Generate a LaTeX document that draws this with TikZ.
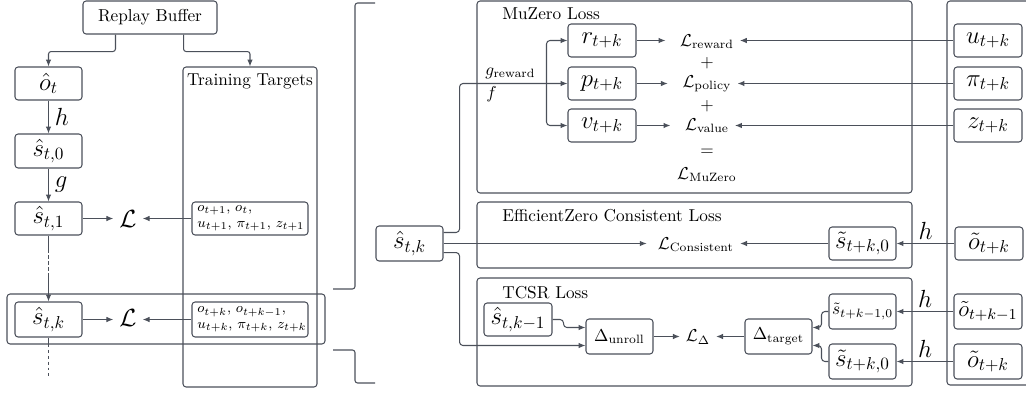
\documentclass[tikz,border=0pt]{standalone}
\usetikzlibrary{calc,arrows.meta}
\definecolor{lncol}{RGB}{75,80,90}
\newcommand{\bnode}[7][]{%
  \pgfmathsetmacro\bcx{(#3+#5)/2}%
  \pgfmathsetmacro\bcy{(#4+#6)/2}%
  \pgfmathsetmacro\bbw{(#5-#3)*0.58}%
  \pgfmathsetmacro\bbh{(#6-#4)*0.58}%
  \node[box, minimum width=\bbw pt, minimum height=\bbh pt, #1] (#2) at (\bcx,\bcy) {#7};}
\begin{document}
\begin{tikzpicture}[x=0.58pt,y=-0.58pt,
  box/.style={draw=lncol, line width=0.6pt, rounded corners=1.8pt, inner sep=0pt},
  wire/.style={draw=lncol, line width=0.6pt},
  arr/.style={draw=lncol, line width=0.6pt, -{Latex[length=4pt,width=3.2pt]}},
  big/.style={font=\Large},
  tgt/.style={text width=61pt, align=left, font=\fontsize{8}{9.2}\selectfont},
  lbl/.style={inner sep=0pt}]
\useasboundingbox (0,0) rectangle (1026,393);
\clip (0,0) rectangle (1026,393);

% ---------- left part ----------
\bnode{RB}{83}{1}{217}{34}{Replay Buffer}
\bnode[big]{o}{15}{67}{82}{100}{$\hat{o}_t$}
\bnode{TT}{183}{67}{317}{387}{}
\node[lbl, anchor=base] (TTt) at (250,85) {Training Targets};
\bnode[big]{s0}{15}{134}{82}{168}{$\hat{s}_{t,0}$}
\bnode[big]{s1}{15}{202}{82}{235}{$\hat{s}_{t,1}$}
\bnode[big]{sk}{15}{302}{82}{337}{$\hat{s}_{t,k}$}
\bnode{hl}{7}{294}{325}{344}{}
\node[big] (L1) at (128,219) {$\mathcal{L}$};
\node[big] (Lk) at (128,318) {$\mathcal{L}$};
\bnode[tgt]{T1}{192}{202}{308}{235}%
  {$o_{t+1},\, o_t,$\\ $u_{t+1},\, \pi_{t+1},\, z_{t+1}$}
\bnode[tgt]{Tk}{192}{302}{308}{337}%
  {$o_{t+k},\, o_{t+k-1},$\\ $u_{t+k},\, \pi_{t+k},\, z_{t+k}$}
\coordinate (skend) at (48.5,377);

\draw[arr, rounded corners=1.5pt] ($(RB.south west)+(33,0)$) -- ++(0,17) -| (o.north);
\draw[arr, rounded corners=1.5pt] ($(RB.south east)+(-34,0)$) -- ++(0,17) -| (TT.north);
\draw[arr] (o) -- node[right, big]{$h$} (s0);
\draw[arr] (s0) -- node[right, big]{$g$} (s1);
\draw[arr] (s1.east) -- (s1.east -| L1.west);
\draw[arr] (T1.west) -- (T1.west -| L1.east);
\draw[arr] (sk.east) -- (sk.east -| Lk.west);
\draw[arr] (Tk.west) -- (Tk.west -| Lk.east);
\draw[arr, dash pattern=on 9.9pt off 1.5pt on 2pt off 1.5pt on 2pt off 1.5pt on 2pt off 1.5pt on 40pt] (s1.south) -- (sk.north);
\draw[wire, dash pattern=on 5.5pt off 1.7pt on 1.7pt off 1.7pt on 1.7pt off 1.7pt on 1.7pt off 1.7pt on 1.7pt off 1.7pt on 1.7pt off 1.7pt on 1.7pt off 10pt] (sk.south) -- (skend);

% bracket
\draw[wire, rounded corners=1.5pt] (375,3) -- (355,3) -- (355,289) -- (333,289);
\draw[wire, rounded corners=1.5pt] (333,350) -- (355,350) -- (355,383) -- (375,383);

% ---------- right part ----------
\bnode[big]{skk}{376}{226}{443}{261}{$\hat{s}_{t,k}$}

% MuZero loss
\bnode{MZ}{477}{1}{912}{193}{}
\node[lbl, anchor=base west] (MZt) at (502,19) {MuZero Loss};
\bnode[big]{r}{568}{24}{636}{57}{$r_{t+k}$}
\bnode[big]{p}{568}{67}{636}{100}{$p_{t+k}$}
\bnode[big]{v}{568}{109}{636}{142}{$v_{t+k}$}
\node[lbl, anchor=base west] (gr) at (485,75) {$g_{\mathrm{reward}}$};
\node[lbl, anchor=base west] (ff) at (486,98) {$f$};
\node[anchor=base] (Lr) at (707,46) {$\mathcal{L}_{\mathrm{reward}}$};
\node (pl1) at (707,63) {$+$};
\node[anchor=base] (Lp) at (707,87) {$\mathcal{L}_{\mathrm{policy}}$};
\node (pl2) at (707,106) {$+$};
\node[anchor=base] (Lv) at (707,130) {$\mathcal{L}_{\mathrm{value}}$};
\node (eq) at (707,152) {$=$};
\node[anchor=base] (Lm) at (707,179) {$\mathcal{L}_{\mathrm{MuZero}}$};

% right targets column
\bnode{col}{947}{1}{1060}{385}{}
\bnode[big]{u}{954}{24}{1022}{57}{$u_{t+k}$}
\bnode[big]{pi}{954}{67}{1022}{100}{$\pi_{t+k}$}
\bnode[big]{z}{954}{109}{1022}{142}{$z_{t+k}$}

\draw[arr, rounded corners=2pt] ($(skk.north east)+(0,7)$) -- ++(16,0) |- (p.west);
\draw[arr, rounded corners=2pt] ($(p.west)+(-21,0)$) |- (r.west);
\draw[arr, rounded corners=2pt] ($(p.west)+(-21,0)$) |- (v.west);
\draw[arr, shorten >=5pt] (r.east) -- (r.east -| Lr.west);
\draw[arr, shorten >=5pt] (p.east) -- (p.east -| Lp.west);
\draw[arr, shorten >=5pt] (v.east) -- (v.east -| Lv.west);
\draw[arr] (u.west) -- (u.west -| Lr.east);
\draw[arr] (pi.west) -- (pi.west -| Lp.east);
\draw[arr] (z.west) -- (z.west -| Lv.east);

% EfficientZero consistent loss
\bnode{EZ}{477}{202}{912}{268}{}
\node[lbl, anchor=base west] (EZt) at (502,221) {EfficientZero Consistent Loss};
\node[anchor=base] (Lc) at (696,249) {$\mathcal{L}_{\mathrm{Consistent}}$};
\bnode[big]{st}{829}{227}{896}{260}{$\tilde{s}_{t+k,0}$}
\bnode[big]{ot}{955}{227}{1023}{260}{$\tilde{o}_{t+k}$}
\draw[arr, shorten >=3pt] (skk.east) -- (skk.east -| Lc.west);
\draw[arr] (st.west) -- (st.west -| Lc.east);
\draw[arr] (ot.west) -- node[above, big, inner sep=2pt]{$h$} (st.east);

% TCSR loss
\bnode{TC}{477}{278}{912}{386}{}
\node[lbl, anchor=base west] (TCt) at (502,298) {TCSR Loss};
\bnode[big]{skm}{484}{303}{552}{336}{$\hat{s}_{t,k-1}$}
\bnode{du}{586}{319}{653}{354}{$\Delta_{\mathrm{unroll}}$}
\node (Ld) at (698,337) {$\mathcal{L}_{\Delta}$};
\bnode{dt}{745}{319}{812}{354}{$\Delta_{\mathrm{target}}$}
\bnode{sm}{829}{294}{896}{329}{$\tilde{s}_{t+k-1,0}$}
\bnode[big]{sb}{829}{344}{896}{379}{$\tilde{s}_{t+k,0}$}
\bnode[font=\large]{om}{954}{294}{1022}{329}{\scalebox{1.1}{$\tilde{o}_{t+k-1}$}}
\bnode[big]{ob}{954}{344}{1022}{379}{$\tilde{o}_{t+k}$}

\draw[arr, rounded corners=2pt] (skm.east) -- ++(11,0) |- ($(du.west)+(0,-9)$);
\draw[arr, rounded corners=2pt] ($(skk.south east)+(0,-9)$) -- ++(16,0) |- ($(du.west)+(0,9)$);
\draw[arr] (du.east) -- (du.east -| Ld.west);
\draw[arr] (dt.west) -- (dt.west -| Ld.east);
\draw[arr, rounded corners=2pt] (sm.west) -- ++(-7,0) |- ($(dt.east)+(0,-9)$);
\draw[arr, rounded corners=2pt] (sb.west) -- ++(-7,0) |- ($(dt.east)+(0,9)$);
\draw[arr] (om.west) -- node[above, big, inner sep=2pt]{$h$} (sm.east);
\draw[arr] (ob.west) -- node[above, big, inner sep=2pt]{$h$} (sb.east);
\end{tikzpicture}
\end{document}
